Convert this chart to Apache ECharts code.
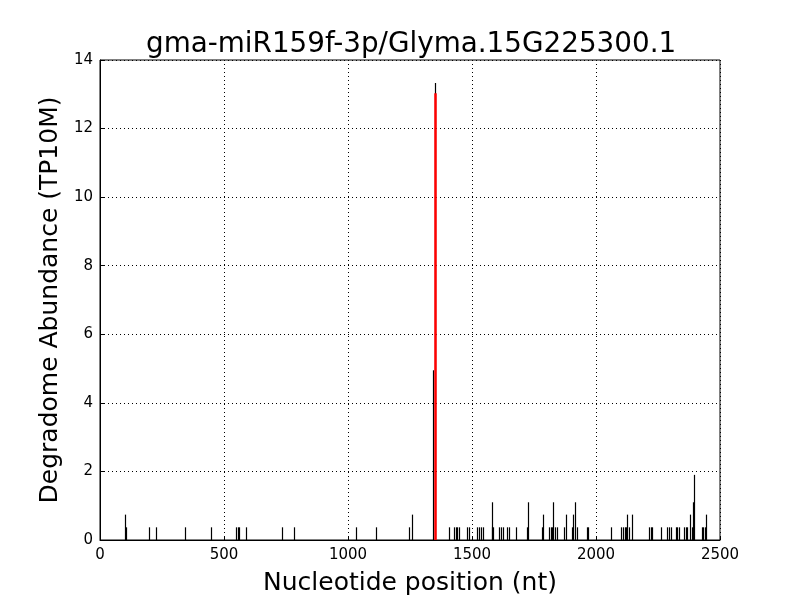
<!DOCTYPE html>
<html>
<head>
<meta charset="utf-8">
<script src="https://cdn.jsdelivr.net/npm/echarts@6/dist/echarts.min.js"></script>
<style>html,body{margin:0;padding:0;background:#fff;}#c{width:800px;height:600px;}</style>
</head>
<body>
<div id="c"></div>
<script>
var titleText = 'gma-miR159f-3p/Glyma.15G225300.1';
var xName = 'Nucleotide position (nt)';
var yName = 'Degradome Abundance (TP10M)';
var xTicks = [0, 500, 1000, 1500, 2000, 2500];
var yTicks = [0, 2, 4, 6, 8, 10, 12, 14];

var positions = [102,106,199,227,344,448,550,555,561,590,732,783,1034,1114,1246,1259,
  1343,1351,1407,1427,1434,1441,1448,1481,1488,1521,1528,1535,1546,1579,1582,1586,
  1610,1617,1624,1641,1648,1676,1720,1727,1781,1787,1812,1817,1821,1828,1835,1841,
  1872,1879,1905,1908,1915,1922,1962,1969,2059,2101,2108,2118,2122,2126,2132,2146,
  2215,2220,2227,2262,2285,2294,2302,2323,2328,2335,2355,2362,2368,2379,2388,2392,2396,
  2426,2432,2440,2444];
var abundance = [0.74,0.37,0.37,0.37,0.37,0.37,0.37,0.37,0.37,0.37,0.37,0.37,0.37,0.37,0.37,0.74,
  4.95,13.33,0.37,0.37,0.37,0.37,0.37,0.37,0.37,0.37,0.37,0.37,0.37,0.37,1.1,0.37,
  0.37,0.37,0.37,0.37,0.37,0.37,0.37,1.1,0.37,0.74,0.37,0.37,0.37,1.1,0.37,0.37,
  0.37,0.74,0.37,0.74,1.1,0.37,0.37,0.37,0.37,0.37,0.37,0.37,0.37,0.74,0.37,0.74,
  0.37,0.37,0.37,0.37,0.37,0.37,0.37,0.37,0.37,0.37,0.37,0.37,0.37,0.74,0.37,1.1,1.9,
  0.37,0.37,0.37,0.74];
var targetPos = [1351];
var targetVal = [13.03];

function zip(a, b) { return a.map(function (v, i) { return [v, b[i]]; }); }

function stemRenderer(color, width) {
  return function (params, api) {
    var x = api.value(0), y = api.value(1);
    var p0 = api.coord([x, 0]);
    var p1 = api.coord([x, y]);
    var px = Math.round(p0[0]) + (Math.round(width) % 2 === 1 ? 0.5 : 0);
    return {
      type: 'line',
      shape: { x1: px, y1: p0[1], x2: px, y2: p1[1] },
      style: { stroke: color, lineWidth: width }
    };
  };
}

var chart = echarts.init(document.getElementById('c'), null, { renderer: 'canvas' });
var font = 'DejaVu Sans';
chart.setOption({
  animation: false,
  backgroundColor: '#fff',
  title: {
    text: titleText,
    left: 141, top: 26,
    textStyle: { fontFamily: font, fontSize: 27.8, fontWeight: 'normal', color: '#000' }
  },
  grid: { left: 100, right: 80, top: 60, bottom: 60, containLabel: false, outerBoundsMode: 'none', show: true, borderColor: '#000', borderWidth: 1, backgroundColor: 'transparent' },
  xAxis: {
    type: 'value', min: xTicks[0], max: xTicks[xTicks.length - 1], interval: 500,
    name: xName, nameLocation: 'middle', nameGap: 31,
    nameTextStyle: { fontFamily: font, fontSize: 25, color: '#000' },
    axisLine: { show: true, lineStyle: { color: '#000', width: 1 } },
    axisTick: { show: true, inside: true, length: 4, lineStyle: { color: '#000' } },
    axisLabel: { fontFamily: font, fontSize: 15, color: '#000', margin: 8, formatter: function (v) { return String(v); } },
    splitLine: { show: true, lineStyle: { color: '#000', type: [1, 3], width: 1 } }
  },
  yAxis: {
    type: 'value', min: yTicks[0], max: yTicks[yTicks.length - 1], interval: 2,
    name: yName, nameLocation: 'middle', nameGap: 25, nameRotate: 90,
    nameTextStyle: { fontFamily: font, fontSize: 25, color: '#000' },
    axisLine: { show: true, lineStyle: { color: '#000', width: 1 } },
    axisTick: { show: true, inside: true, length: 4, lineStyle: { color: '#000' } },
    axisLabel: { fontFamily: font, fontSize: 15, color: '#000', margin: 7, formatter: function (v) { return String(v); } },
    splitLine: { show: true, lineStyle: { color: '#000', type: [1, 3], width: 1 } }
  },
  series: [
    { type: 'custom', renderItem: stemRenderer('#000', 1.2), data: zip(positions, abundance), z: 2, clip: true },
    { type: 'custom', renderItem: stemRenderer('#ff0000', 2.5), data: zip(targetPos, targetVal), z: 3, clip: true }
  ]
});
</script>
</body>
</html>
